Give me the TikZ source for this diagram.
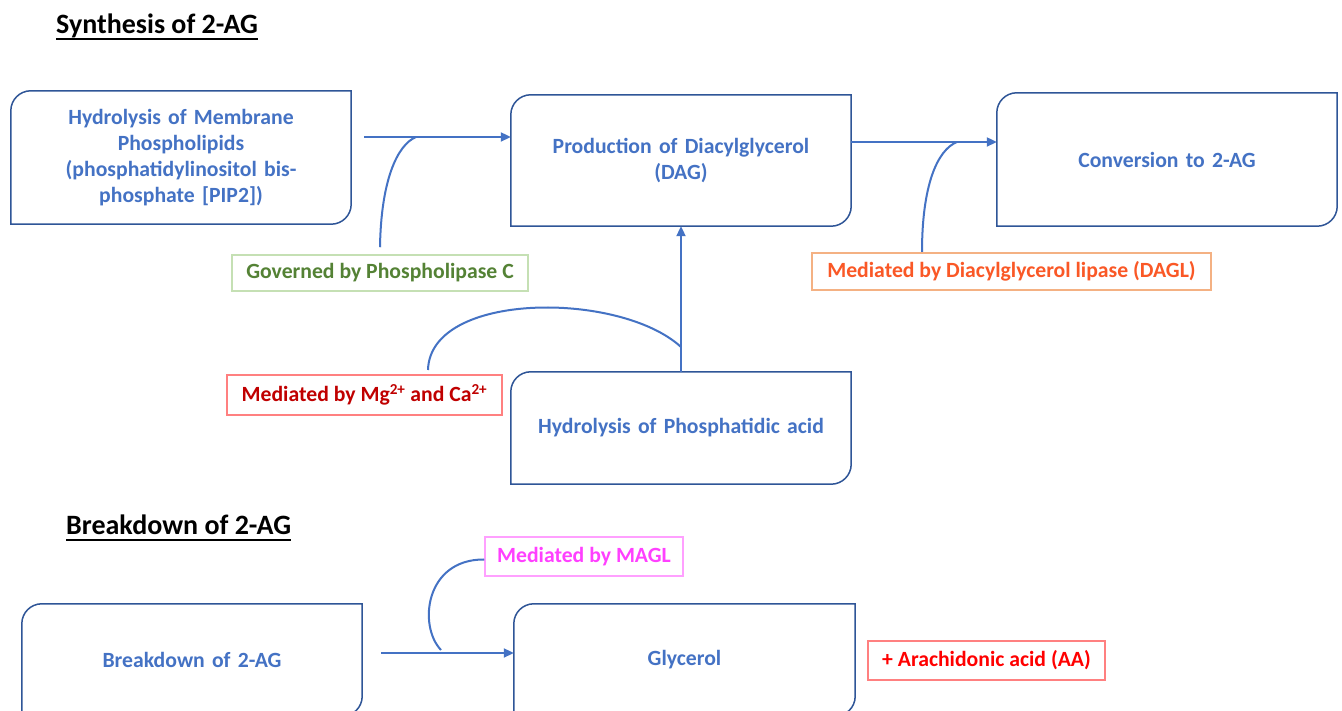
\documentclass[tikz,border=0pt]{standalone}
\usepackage{fontspec}
\setmainfont{Carlito}
\usetikzlibrary{arrows.meta}
\definecolor{txtblue}{RGB}{68,114,196}
\definecolor{boxblue}{RGB}{47,85,151}
\definecolor{linkblue}{RGB}{68,114,196}
\definecolor{gtext}{RGB}{84,130,53}
\definecolor{gborder}{RGB}{197,224,180}
\definecolor{otext}{RGB}{250,88,38}
\definecolor{oborder}{RGB}{244,177,131}
\definecolor{mtext}{RGB}{192,0,0}
\definecolor{mborder}{RGB}{255,128,128}
\definecolor{ptext}{RGB}{255,64,255}
\definecolor{pborder}{RGB}{255,160,255}
\definecolor{rtext}{RGB}{255,0,0}
\definecolor{rborder}{RGB}{255,128,128}
\newcommand\snipoutline[1]{%
  \draw[boxblue, line width=1.5pt]
    ([yshift=-20pt]#1.north west) arc[start angle=180,end angle=90,radius=20pt]
    -- (#1.north east) -- ([yshift=20pt]#1.south east)
    arc[start angle=0,end angle=-90,radius=20pt] -- (#1.south west) -- cycle;}
\tikzset{
  procbox/.style={inner sep=0pt, minimum width=340pt, text width=330pt, align=center,
    text=txtblue, font=\fontsize{21.7}{26}\selectfont\bfseries},
  lab/.style={inner sep=0pt, line width=1.5pt, align=center,
    font=\fontsize{21.7}{26}\selectfont\bfseries},
  ttl/.style={inner sep=0pt, anchor=base west, font=\fontsize{28}{33}\selectfont\bfseries},
  link/.style={draw=linkblue, line width=2pt},
  arr/.style={link, -{Triangle[length=10pt,width=9pt]}},
}
\begin{document}
\begin{tikzpicture}[x=1pt,y=1pt]
\useasboundingbox (0,0) rectangle (1342,711);
\clip (0,0) rectangle (1342,711);
\fill[white] (0,0) rectangle (1342,711);

% titles
\node[ttl] (t1) at (56,677) {Synthesis of 2-AG};
\draw[line width=2pt] ([yshift=-5pt]t1.base west) -- ([yshift=-5pt]t1.base east);
\node[ttl] (t2) at (66,176) {Breakdown of 2-AG};
\draw[line width=2pt] ([yshift=-5pt]t2.base west) -- ([yshift=-5pt]t2.base east);

% process boxes
\node[procbox, minimum height=133pt] (b1) at (181,553.5)
  {Hydrolysis of Membrane\\Phospholipids\\(phosphatidylinositol bis-\\phosphate [PIP2])};
\node[procbox, minimum height=131pt] (b2) at (681,550.5)
  {Production of Diacylglycerol\\(DAG)};
\node[procbox, minimum height=133pt] (b3) at (1167,551.5) {Conversion to 2-AG};
\node[procbox, minimum height=112pt] (b4) at (681,283) {Hydrolysis of Phosphatidic acid};
\node[procbox, minimum height=112pt] (b5) at (192,51) {Breakdown of 2-AG};
\node[procbox, minimum height=112pt, minimum width=341pt] (b6) at (684.5,51) {Glycerol};
\snipoutline{b1}
\snipoutline{b2}
\snipoutline{b3}
\snipoutline{b4}
\snipoutline{b5}
\snipoutline{b6}

% labels
\node[lab, draw=gborder, text=gtext, minimum width=296pt, minimum height=36pt] (lg) at (380,438)
  {Governed by Phospholipase C};
\node[lab, draw=oborder, text=otext, minimum width=399pt, minimum height=37pt] (lo) at (1011.5,439.5)
  {Mediated by Diacylglycerol lipase (DAGL)};
\node[lab, draw=mborder, text=mtext, minimum width=275pt, minimum height=40pt] (lm) at (364.5,316)
  {Mediated by Mg\textsuperscript{2+} and Ca\textsuperscript{2+}};
\node[lab, draw=pborder, text=ptext, minimum width=198pt, minimum height=39pt] (lp) at (584,154.5)
  {Mediated by MAGL};
\node[lab, draw=rborder, text=rtext, minimum width=237pt, minimum height=39pt] (la) at (986.5,50.5)
  {+ Arachidonic acid (AA)};

% connectors: synthesis
\coordinate (s1) at (364,574);
\coordinate (j1) at (416,574);
\draw[arr] (s1) -- (b2.west |- s1);
\draw[link] ([yshift=7pt]lg.north) .. controls (381,530) and (397,566) .. (j1);

\coordinate (s2) at (b2.east |- 0,569);
\coordinate (j2) at (957,569);
\coordinate (c2) at (922,459);
\draw[arr] (s2) -- (b3.west |- s2);
\draw[link] (c2) .. controls (922,525) and (937,561) .. (j2);

\coordinate (j3) at (681,364);
\coordinate (c3) at (428,341);
\draw[arr] (b4.north) -- (b2.south);
\draw[link] (c3) .. controls (430,420) and (620,420) .. (j3);

% connectors: breakdown
\coordinate (s4) at (381,58);
\coordinate (j4) at (441,61);
\draw[arr] (s4) -- (b6.west |- s4);
\draw[link] ([yshift=-3pt]lp.west) .. controls (425,152) and (418,85) .. (j4);
\end{tikzpicture}
\end{document}
